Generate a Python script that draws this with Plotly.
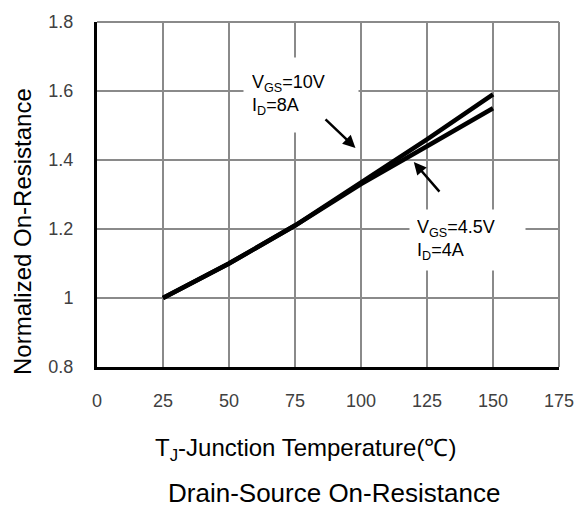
import plotly.graph_objects as go

temps = [25, 50, 75, 100, 125, 150]
r_vgs10 = [1.0, 1.10, 1.21, 1.335, 1.46, 1.59]
r_vgs45 = [1.0, 1.10, 1.21, 1.33, 1.44, 1.55]

x_ticks = [0, 25, 50, 75, 100, 125, 150, 175]
y_ticks = [0.8, 1.0, 1.2, 1.4, 1.6, 1.8]
y_tick_text = ["0.8", "1", "1.2", "1.4", "1.6", "1.8"]

FONT = "Liberation Sans, Arial, sans-serif"
W, H = 585, 508
L, R, T, B = 97, 26, 22, 141
PW, PH = W - L - R, H - T - B


def px2paper(px, py):
    return (px - L) / PW, 1 - (py - T) / PH


fig = go.Figure()
for ys in (r_vgs45, r_vgs10):
    fig.add_trace(go.Scatter(x=temps, y=ys, mode="lines",
                             line=dict(color="black", width=4.5),
                             showlegend=False, hoverinfo="skip"))

fig.update_layout(
    width=W, height=H,
    margin=dict(l=L, r=R, t=T, b=B, autoexpand=False),
    paper_bgcolor="white", plot_bgcolor="white",
    font=dict(family=FONT, color="#333"),
    xaxis=dict(range=[0, 175], tickvals=x_ticks, showgrid=True,
               gridcolor="#8a8a8a", gridwidth=2, zeroline=False,
               showline=True, linecolor="black", linewidth=3,
               tickfont=dict(size=18, color="#404040", family=FONT),
               ticks="", ticklabelstandoff=15, automargin=False),
    yaxis=dict(range=[0.8, 1.8], tickvals=y_ticks, ticktext=y_tick_text,
               showgrid=True, gridcolor="#8a8a8a", gridwidth=2, zeroline=False,
               showline=True, linecolor="black", linewidth=3,
               tickfont=dict(size=18, color="#404040", family=FONT),
               ticks="", ticklabelstandoff=17, automargin=False),
)

# top and right borders
fig.add_shape(type="line", xref="paper", yref="paper", x0=0, x1=1, y0=1, y1=1,
              line=dict(color="#8a8a8a", width=2))
fig.add_shape(type="line", xref="paper", yref="paper", x0=1, x1=1, y0=0, y1=1,
              line=dict(color="#8a8a8a", width=2))

# labels
fig.add_annotation(x=55.4, y=1.588, xref="x", yref="y", xanchor="left", yanchor="middle",
                   text="V<sub>GS</sub>=10V<br>I<sub>D</sub>=8A", showarrow=False,
                   align="left", valign="middle", bgcolor="white", borderpad=8,
                   width=98, height=58,
                   font=dict(size=18, color="black", family=FONT))
fig.add_annotation(x=118.1, y=1.168, xref="x", yref="y", xanchor="left", yanchor="middle",
                   text="V<sub>GS</sub>=4.5V<br>I<sub>D</sub>=4A", showarrow=False,
                   align="left", valign="middle", bgcolor="white", borderpad=7,
                   width=101, height=46,
                   font=dict(size=18, color="black", family=FONT))

# arrows
fig.add_annotation(x=97.9, y=1.435, ax=86, ay=1.522, xref="x", yref="y",
                   axref="x", ayref="y", text="", showarrow=True,
                   arrowhead=2, arrowsize=1, arrowwidth=2.5, arrowcolor="black")
fig.add_annotation(x=120, y=1.394, ax=130.2, ay=1.304, xref="x", yref="y",
                   axref="x", ayref="y", text="", showarrow=True,
                   arrowhead=2, arrowsize=1, arrowwidth=2.5, arrowcolor="black")

# axis titles
x0, y0 = px2paper(22, 232)
fig.add_annotation(x=x0, y=y0, xref="paper", yref="paper", text="Normalized On-Resistance",
                   showarrow=False, textangle=-90, xanchor="center", yanchor="middle",
                   font=dict(size=24, color="black", family=FONT))
x0, y0 = px2paper(305, 449)
fig.add_annotation(x=x0, y=y0, xref="paper", yref="paper",
                   text="T<sub>J</sub>-Junction Temperature(℃)",
                   showarrow=False, xanchor="center", yanchor="middle",
                   font=dict(size=24, color="black", family=FONT))
x0, y0 = px2paper(334, 493)
fig.add_annotation(x=x0, y=y0, xref="paper", yref="paper",
                   text="Drain-Source On-Resistance",
                   showarrow=False, xanchor="center", yanchor="middle",
                   font=dict(size=26, color="black", family=FONT))

fig.write_html("out.html", config={"displayModeBar": False},
               post_script="document.body.style.margin='0px';")
